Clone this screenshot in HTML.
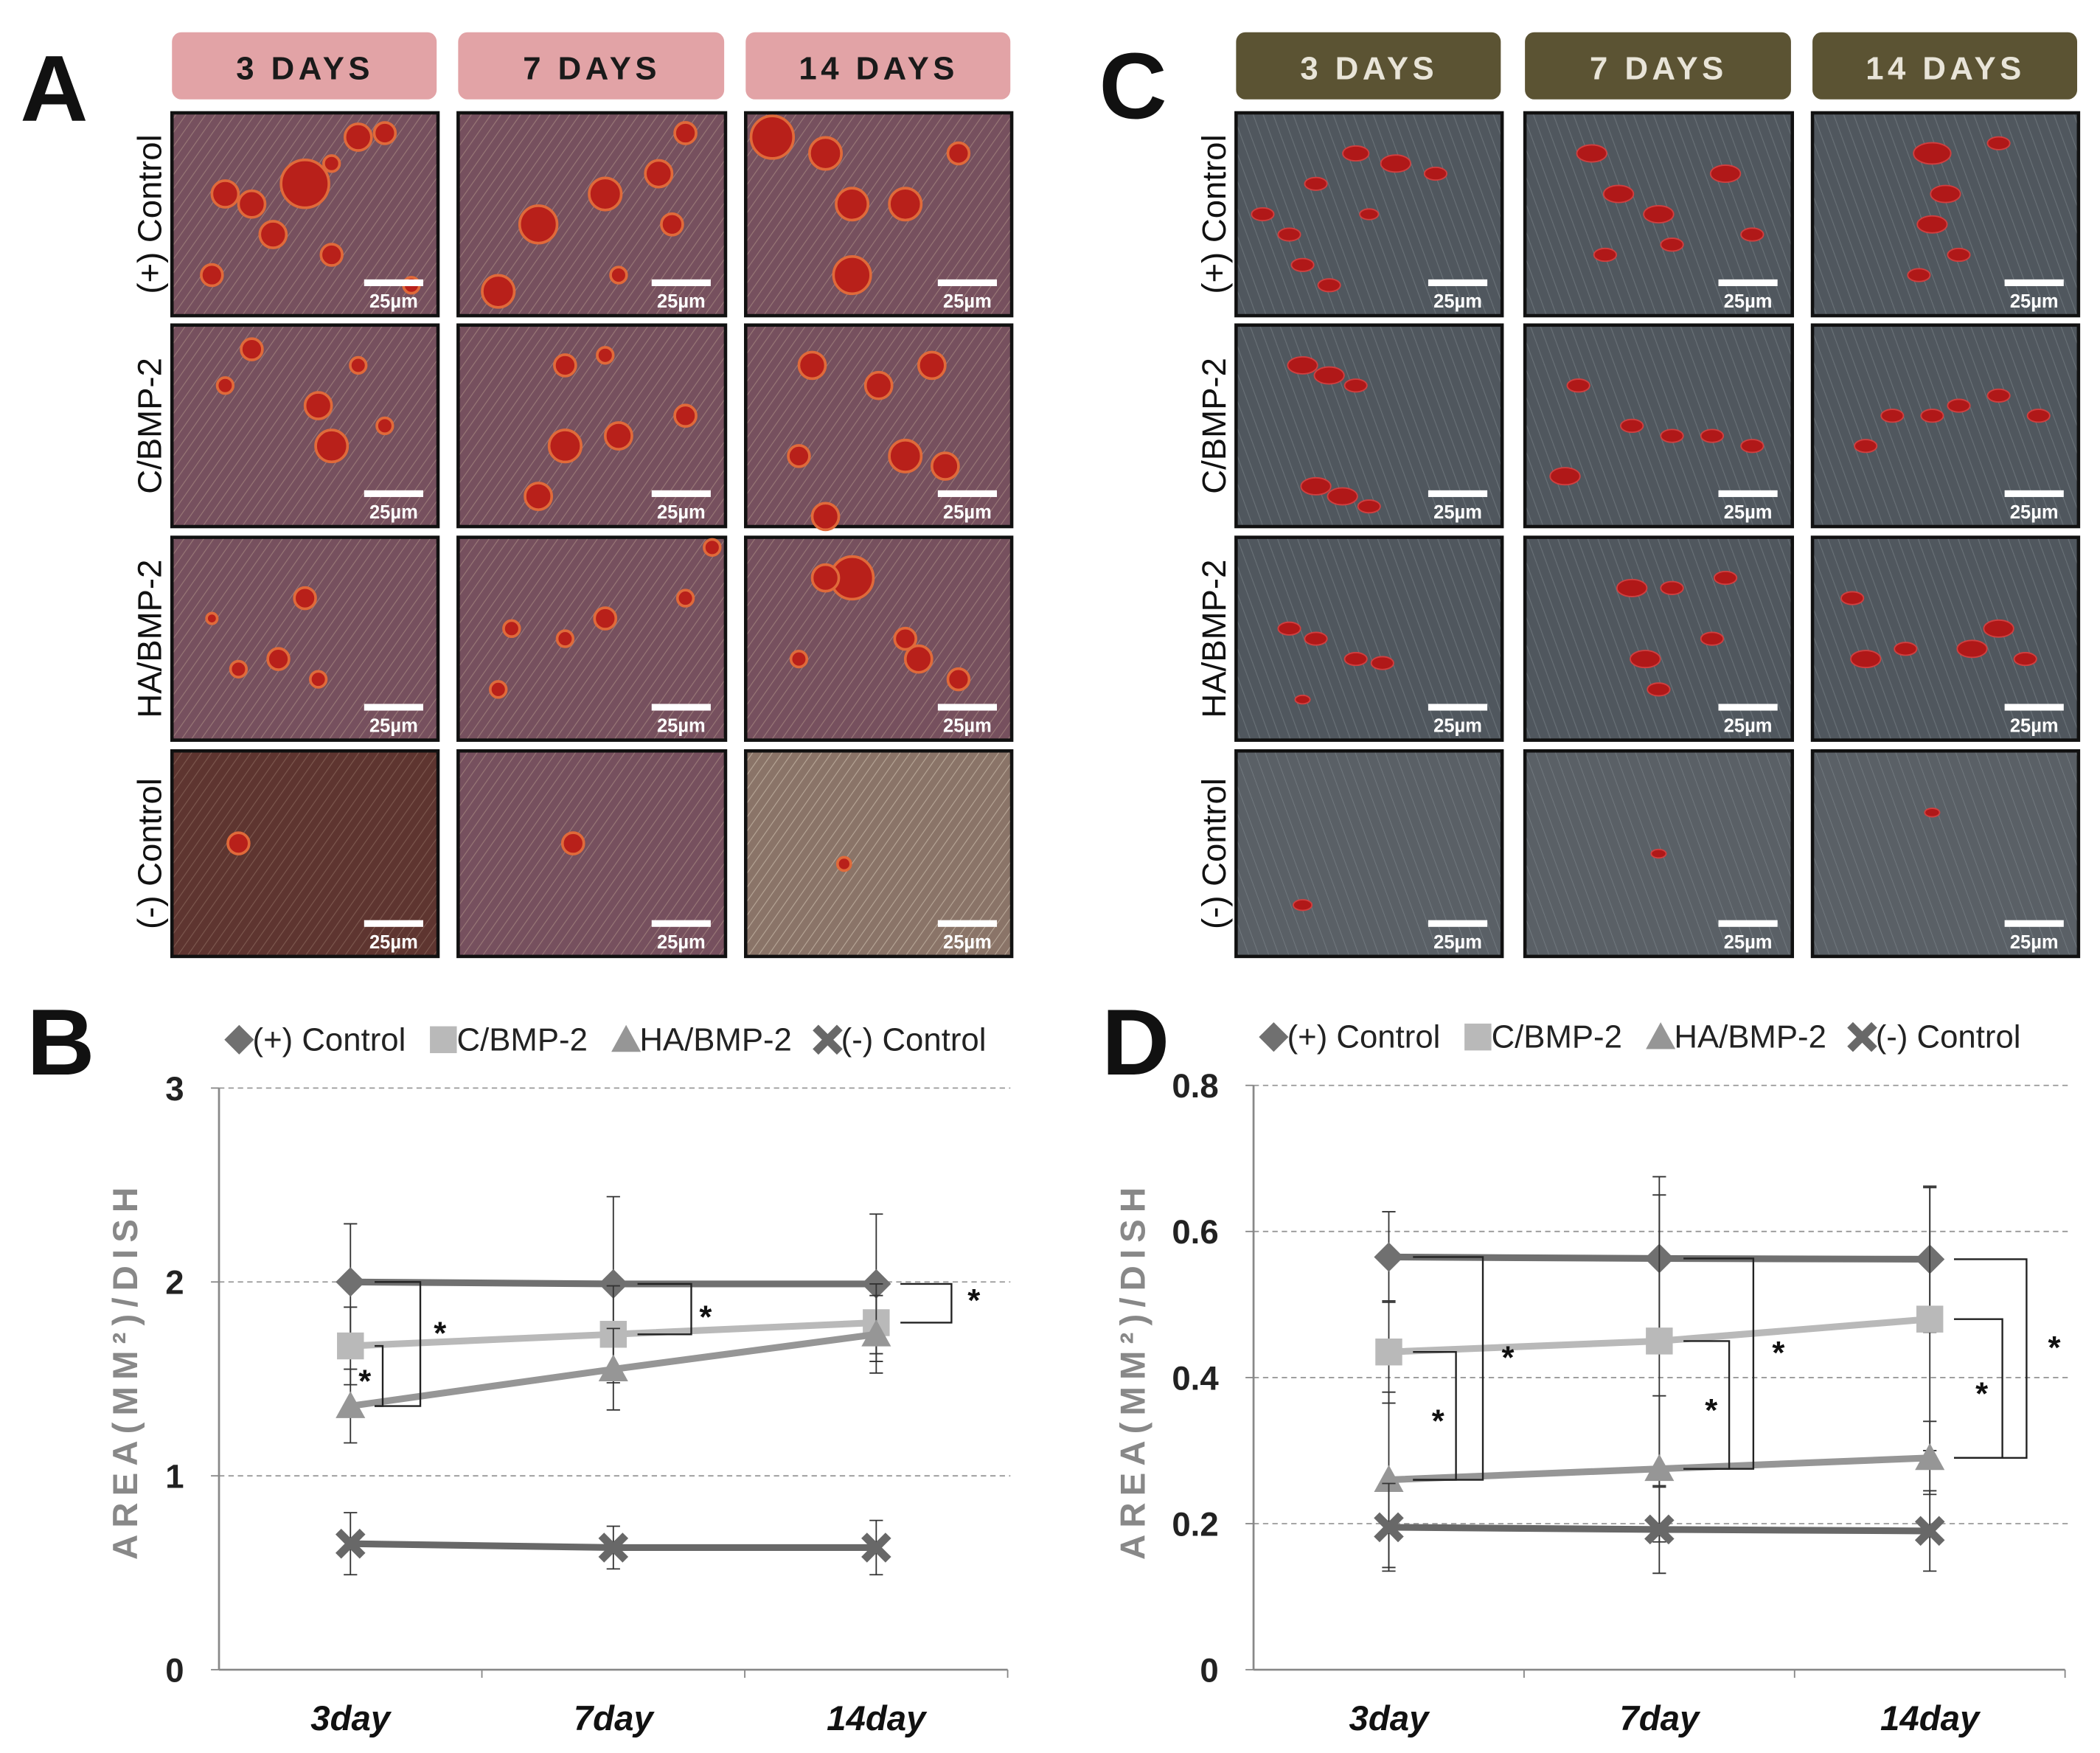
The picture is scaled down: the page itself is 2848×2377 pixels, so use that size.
<!DOCTYPE html>
<html><head><meta charset="utf-8"><style>
html,body{margin:0;padding:0;background:#fff;}
svg{display:block;}
text{font-family:"Liberation Sans",sans-serif;}
</style></head><body>
<svg id="fig" width="2848" height="2377" viewBox="0 0 1563 1305" preserveAspectRatio="none" xmlns="http://www.w3.org/2000/svg">
<defs>
<pattern id="texA" width="6" height="6" patternUnits="userSpaceOnUse" patternTransform="rotate(35)">
<rect width="6" height="6" fill="#76505e"/><line x1="0" y1="0" x2="0" y2="6" stroke="#9a7a78" stroke-width="1.2"/>
</pattern>
<pattern id="texA2" width="6" height="6" patternUnits="userSpaceOnUse" patternTransform="rotate(35)">
<rect width="6" height="6" fill="#5e3530"/><line x1="0" y1="0" x2="0" y2="6" stroke="#7e5a50" stroke-width="1.2"/>
</pattern>
<pattern id="texA3" width="6" height="6" patternUnits="userSpaceOnUse" patternTransform="rotate(35)">
<rect width="6" height="6" fill="#8a7468"/><line x1="0" y1="0" x2="0" y2="6" stroke="#b8a898" stroke-width="1.2"/>
</pattern>
<pattern id="texC" width="7" height="7" patternUnits="userSpaceOnUse" patternTransform="rotate(-20)">
<rect width="7" height="7" fill="#50575e"/><line x1="0" y1="0" x2="0" y2="7" stroke="#6a7278" stroke-width="1.2"/>
</pattern>
<pattern id="texC2" width="7" height="7" patternUnits="userSpaceOnUse" patternTransform="rotate(-20)">
<rect width="7" height="7" fill="#5a6066" stroke="none"/><line x1="0" y1="0" x2="0" y2="7" stroke="#727a80" stroke-width="1"/>
</pattern>
</defs>
<g id="panels"></g>
<g id="chartB"></g>
<g id="chartD"></g>
</svg>
<script>
// chart data
const categories = ['3day','7day','14day'];
const seriesNames = ['(+) Control','C/BMP-2','HA/BMP-2','(-) Control'];
const bPos = [2.00, 1.99, 1.99];
const bC = [1.67, 1.73, 1.79];
const bHA = [1.36, 1.55, 1.73];
const bNeg = [0.65, 0.63, 0.63];
const bPosErr = [0.30, 0.45, 0.36];
const bCErr = [0.20, 0.25, 0.20];
const bHAErr = [0.19, 0.21, 0.20];
const bNegErr = [0.16, 0.11, 0.14];
const bTicks = [0, 1, 2, 3];
const dPos = [0.565, 0.563, 0.562];
const dC = [0.435, 0.450, 0.480];
const dHA = [0.260, 0.275, 0.290];
const dNeg = [0.195, 0.192, 0.190];
const dPosErr = [0.062, 0.112, 0.100];
const dCErr = [0.070, 0.200, 0.180];
const dHAErr = [0.120, 0.100, 0.050];
const dNegErr = [0.060, 0.060, 0.055];
const dTicks = [0, 0.2, 0.4, 0.6, 0.8];
const dayLabels = ['3 DAYS','7 DAYS','14 DAYS'];
const rowLabels = ['(+) Control','C/BMP-2','HA/BMP-2','(-) Control'];

const NS='http://www.w3.org/2000/svg';
function mk(tag,attrs,parent,txt){const e=document.createElementNS(NS,tag);for(const k in attrs)e.setAttribute(k,attrs[k]);if(txt!==undefined)e.textContent=txt;parent.appendChild(e);return e;}

const P=document.getElementById('panels');
// panel letters
[['A',15,90],['C',818,88],['B',20,800],['D',820,800]].forEach(([t,x,y])=>{
 const e=mk('text',{x:x,y:y,'font-size':70,'font-weight':'bold',fill:'#111'},P,t);
 
 
});
const rowsY=[[84,235],[242,392],[400,551],[559,712]];
const colsA=[[128,326],[341,540],[555,753]];
const colsC=[[920,1118],[1135,1334],[1349,1547]];
// decorative blobs (relative coords) per panel
const blobsA=[
 [[.5,.35,.09],[.2,.4,.05],[.3,.45,.05],[.7,.12,.05],[.8,.1,.04],[.6,.25,.03],[.38,.6,.05],[.15,.8,.04],[.6,.7,.04],[.9,.85,.03]],
 [[.3,.55,.07],[.55,.4,.06],[.75,.3,.05],[.8,.55,.04],[.15,.88,.06],[.85,.1,.04],[.6,.8,.03]],
 [[.1,.12,.08],[.3,.2,.06],[.4,.45,.06],[.6,.45,.06],[.4,.8,.07],[.8,.2,.04]],
 [[.3,.12,.04],[.55,.4,.05],[.6,.6,.06],[.2,.3,.03],[.8,.5,.03],[.7,.2,.03]],
 [[.4,.2,.04],[.4,.6,.06],[.6,.55,.05],[.3,.85,.05],[.85,.45,.04],[.55,.15,.03]],
 [[.25,.2,.05],[.5,.3,.05],[.7,.2,.05],[.6,.65,.06],[.75,.7,.05],[.3,.95,.05],[.2,.65,.04]],
 [[.5,.3,.04],[.4,.6,.04],[.25,.65,.03],[.55,.7,.03],[.15,.4,.02]],
 [[.2,.45,.03],[.4,.5,.03],[.55,.4,.04],[.85,.3,.03],[.15,.75,.03],[.95,.05,.03]],
 [[.4,.2,.08],[.3,.2,.05],[.6,.5,.04],[.65,.6,.05],[.8,.7,.04],[.2,.6,.03]],
 [[.25,.45,.04]],[[.43,.45,.04]],[[.37,.55,.025]]
];
const blobsC=[
 [[.1,.5,.03],[.2,.6,.03],[.25,.75,.03],[.35,.85,.03],[.45,.2,.035],[.6,.25,.04],[.75,.3,.03],[.3,.35,.03],[.5,.5,.025]],
 [[.25,.2,.04],[.35,.4,.04],[.5,.5,.04],[.55,.65,.03],[.85,.6,.03],[.75,.3,.04],[.3,.7,.03]],
 [[.45,.2,.05],[.5,.4,.04],[.45,.55,.04],[.55,.7,.03],[.4,.8,.03],[.7,.15,.03]],
 [[.25,.2,.04],[.35,.25,.04],[.45,.3,.03],[.3,.8,.04],[.4,.85,.04],[.5,.9,.03]],
 [[.2,.3,.03],[.4,.5,.03],[.55,.55,.03],[.7,.55,.03],[.85,.6,.03],[.15,.75,.04]],
 [[.3,.45,.03],[.45,.45,.03],[.55,.4,.03],[.7,.35,.03],[.85,.45,.03],[.2,.6,.03]],
 [[.2,.45,.03],[.3,.5,.03],[.45,.6,.03],[.55,.62,.03],[.25,.8,.02]],
 [[.4,.25,.04],[.55,.25,.03],[.45,.6,.04],[.5,.75,.03],[.7,.5,.03],[.75,.2,.03]],
 [[.15,.3,.03],[.2,.6,.04],[.35,.55,.03],[.6,.55,.04],[.7,.45,.04],[.8,.6,.03]],
 [[.25,.75,.025]],[[.5,.5,.02]],[[.45,.3,.02]]
];
function drawGrid(cols,blobs,isA,hdrFill,hdrText,prefix){
 cols.forEach((c,ci)=>{
  const h=mk('rect',{x:c[0],y:24,width:c[1]-c[0]-1,height:50,rx:7,fill:hdrFill},P);
  
  
  const t=mk('text',{x:(c[0]+c[1])/2,y:59,'text-anchor':'middle','font-size':24,'font-weight':'bold','letter-spacing':3,fill:hdrText},P,dayLabels[ci]);
  
  
  rowsY.forEach((r,ri)=>{
   let fill=isA?'url(#texA)':'url(#texC)';
   if(isA&&ri===3) fill=ci===0?'url(#texA2)':(ci===2?'url(#texA3)':'url(#texA)');
   if(!isA&&ri===3) fill='url(#texC2)';
   const w=c[1]-c[0],hh=r[1]-r[0];
   const g=mk('g',{},P);
   
   
   mk('rect',{x:c[0],y:r[0],width:w,height:hh,fill:fill,stroke:'#111','stroke-width':2.5},g);
   (blobs[ri*3+ci]||[]).forEach(b=>{
    if(isA){
     mk('circle',{cx:c[0]+b[0]*w,cy:r[0]+b[1]*hh,r:b[2]*w,fill:'#b8201a',stroke:'#e06a3a','stroke-width':2},g);
    } else {
     mk('ellipse',{cx:c[0]+b[0]*w,cy:r[0]+b[1]*hh,rx:b[2]*w*1.4,ry:b[2]*w*0.8,fill:'#b01818',stroke:'#d04040','stroke-width':1},g);
    }
   });
   mk('rect',{x:c[1]-55,y:r[1]-27,width:44,height:5,fill:'#fff'},g);
   mk('text',{x:c[1]-33,y:r[1]-6,'text-anchor':'middle','font-size':14,'font-weight':'bold',fill:'#fff'},g,'25µm');
  });
 });
 rowsY.forEach((r,ri)=>{
  const x=isA?120:912, y=(r[0]+r[1])/2;
  const t=mk('text',{x:x,y:y,'text-anchor':'middle','font-size':25,fill:'#111',transform:`rotate(-90 ${x} ${y})`},P,rowLabels[ri]);
  
  
 });
}
drawGrid(colsA,blobsA,true,'#e2a3a6','#1a1a1a','a');
drawGrid(colsC,blobsC,false,'#5b5333','#e8e4d8','c');

const colors=['#707070','#b9b9b9','#969696','#686868'];
const markers=['diamond','square','triangle','x'];
function marker(g,type,x,y,col,name){
 let e;
 if(type==='diamond') e=mk('path',{d:`M${x} ${y-11}L${x+11} ${y}L${x} ${y+11}L${x-11} ${y}Z`,fill:col},g);
 else if(type==='square') e=mk('rect',{x:x-10,y:y-10,width:20,height:20,fill:col},g);
 else if(type==='triangle') e=mk('path',{d:`M${x} ${y-11}L${x+11} ${y+9}L${x-11} ${y+9}Z`,fill:col},g);
 else e=mk('path',{d:`M${x-9} ${y-9}L${x+9} ${y+9}M${x+9} ${y-9}L${x-9} ${y+9}`,stroke:col,'stroke-width':6},g);
 
 
}
function chart(gid,opt){
 const G=document.getElementById(gid);
 const X0=opt.x0,X1=opt.x1,Y0=1243,Y1=opt.ytop,ymax=opt.ticks[opt.ticks.length-1];
 const yS=v=>Y0-(v/ymax)*(Y0-Y1);
 const bw=(X1-X0)/categories.length;
 const xS=i=>X0+bw*(i+0.5);
 opt.ticks.forEach(t=>{
  if(t>0){const l=mk('line',{x1:X0,x2:X1+2,y1:yS(t),y2:yS(t),stroke:'#999','stroke-dasharray':'4 3','stroke-width':1},G);
   
   }
  const tx=mk('text',{x:X0-26,y:yS(t)+9,'text-anchor':'end','font-size':25,'font-weight':'bold',fill:'#222'},G,opt.fmt(t));
  
  
  mk('line',{x1:X0-6,x2:X0,y1:yS(t),y2:yS(t),stroke:'#888'},G);
 });
 const ax=mk('line',{x1:X0,x2:X0,y1:Y1,y2:Y0,stroke:'#888','stroke-width':1.5},G);
 
 
 const xa=mk('line',{x1:X0,x2:X1,y1:Y0,y2:Y0,stroke:'#888','stroke-width':1.5},G);
 
 
 categories.forEach((c,i)=>{
  mk('line',{x1:X0+bw*(i+1),x2:X0+bw*(i+1),y1:Y0,y2:Y0+6,stroke:'#888'},G);
  const t=mk('text',{x:xS(i),y:1288,'text-anchor':'middle','font-size':26,'font-weight':'bold','font-style':'italic',fill:'#111'},G,c);
  
  
 });
 const yl=opt.ylx, ylc=1020;
 const yt=mk('text',{x:yl,y:ylc,'text-anchor':'middle','font-size':26,'font-weight':'bold','letter-spacing':5,fill:'#888',transform:`rotate(-90 ${yl} ${ylc})`},G,'AREA(MM²)/DISH');
 
 
 // legend
 let lx=opt.legx;
 seriesNames.forEach((n,si)=>{
  const lg=mk('g',{},G);
  
  
  marker(lg,markers[si],lx+10,opt.legy-8,colors[si],'legend-marker');
  const t=mk('text',{x:lx+20,y:opt.legy,'font-size':24,fill:'#222'},lg,n);
  lx+=opt.legw[si];
 });
 opt.series.forEach((s,si)=>{
  const sg=mk('g',{},G);
  
  
  s.v.forEach((v,i)=>{
   const e=mk('line',{x1:xS(i),x2:xS(i),y1:yS(v+s.e[i]),y2:yS(Math.max(0,v-s.e[i])),stroke:'#333','stroke-width':1},sg);
   
   
   mk('line',{x1:xS(i)-5,x2:xS(i)+5,y1:yS(v+s.e[i]),y2:yS(v+s.e[i]),stroke:'#333'},sg);
   mk('line',{x1:xS(i)-5,x2:xS(i)+5,y1:yS(Math.max(0,v-s.e[i])),y2:yS(Math.max(0,v-s.e[i])),stroke:'#333'},sg);
  });
  const pts=s.v.map((v,i)=>xS(i)+','+yS(v)).join(' ');
  const pl=mk('polyline',{points:pts,fill:'none',stroke:colors[si],'stroke-width':5},sg);
  
  
  s.v.forEach((v,i)=>marker(sg,markers[si],xS(i),yS(v),colors[si],'data-point'));
 });
 // significance brackets
 opt.brackets.forEach(b=>{
  const [i,va,vb,off,sx,sy]=b;
  const x=xS(i)+off;
  const bg=mk('path',{d:`M${xS(i)+18} ${yS(va)}H${x}V${yS(vb)}H${xS(i)+18}`,fill:'none',stroke:'#222','stroke-width':1.3},G);
  
  
  const st=mk('text',{x:x+sx,y:(yS(va)+yS(vb))/2+sy,'font-size':24,'font-weight':'bold',fill:'#111'},G,'*');
  
  
 });
}
chart('chartB',{x0:163,x1:750,ytop:810,ticks:bTicks,fmt:t=>String(t),ylx:102,legx:168,legy:782,legw:[152,136,150,150],
 series:[{v:bPos,e:bPosErr},{v:bC,e:bCErr},{v:bHA,e:bHAErr},{v:bNeg,e:bNegErr}],
 brackets:[[0,bC[0],bHA[0],24,-18,12],[0,bPos[0],bHA[0],52,10,0],[1,bPos[1],bC[1],58,6,14],[2,bPos[2],bC[2],56,12,6]]});
chart('chartD',{x0:933,x1:1537,ytop:808,ticks:dTicks,fmt:t=>t===0?'0':t.toFixed(1),ylx:852,legx:938,legy:780,legw:[152,136,150,150],
 series:[{v:dPos,e:dPosErr},{v:dC,e:dCErr},{v:dHA,e:dHAErr},{v:dNeg,e:dNegErr}],
 brackets:[[0,dC[0],dHA[0],50,-18,12],[0,dPos[0],dHA[0],70,14,0],[1,dC[1],dHA[1],52,-18,12],[1,dPos[1],dHA[1],70,14,0],[2,dC[2],dHA[2],54,-20,12],[2,dPos[2],dHA[2],72,16,0]]});
</script>
</body></html>
